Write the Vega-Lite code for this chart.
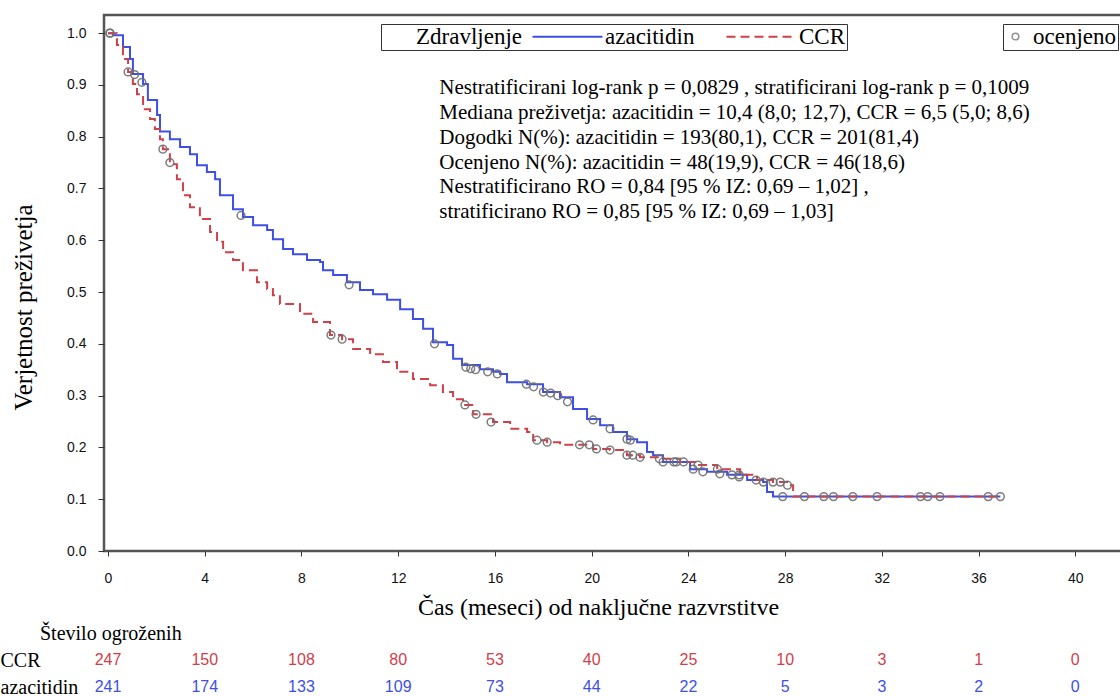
{
  "$schema": "https://vega.github.io/schema/vega-lite/v6.json",
  "padding": {"left": 0, "top": 13, "right": -4, "bottom": 0},
  "background": "white",
  "spacing": 3,
  "config": {
    "font": "Liberation Serif",
    "axis": {"grid": false, "domain": false, "tickColor": "#333", "labelColor": "#111", "titleColor": "#000", "titleFont": "Liberation Serif", "titleFontWeight": "normal", "labelFont": "Liberation Sans"}
  },
  "datasets": {
    "km": [
      {"grp":"azacitidin","t":0,"s":1.0},{"grp":"azacitidin","t":0.21,"s":0.996},{"grp":"azacitidin","t":0.62,"s":0.973},{"grp":"azacitidin","t":0.91,"s":0.95},{"grp":"azacitidin","t":1.03,"s":0.921},{"grp":"azacitidin","t":1.45,"s":0.902},{"grp":"azacitidin","t":1.65,"s":0.871},{"grp":"azacitidin","t":2.03,"s":0.842},{"grp":"azacitidin","t":2.15,"s":0.81},{"grp":"azacitidin","t":2.56,"s":0.795},{"grp":"azacitidin","t":2.98,"s":0.78},{"grp":"azacitidin","t":3.39,"s":0.766},{"grp":"azacitidin","t":3.68,"s":0.745},{"grp":"azacitidin","t":4.09,"s":0.732},{"grp":"azacitidin","t":4.43,"s":0.718},{"grp":"azacitidin","t":4.63,"s":0.687},{"grp":"azacitidin","t":5.17,"s":0.66},{"grp":"azacitidin","t":5.58,"s":0.645},{"grp":"azacitidin","t":6.0,"s":0.629},{"grp":"azacitidin","t":6.58,"s":0.62},{"grp":"azacitidin","t":6.82,"s":0.602},{"grp":"azacitidin","t":7.24,"s":0.583},{"grp":"azacitidin","t":7.65,"s":0.573},{"grp":"azacitidin","t":8.23,"s":0.562},{"grp":"azacitidin","t":8.77,"s":0.558},{"grp":"azacitidin","t":8.89,"s":0.542},{"grp":"azacitidin","t":9.31,"s":0.533},{"grp":"azacitidin","t":9.88,"s":0.519},{"grp":"azacitidin","t":10.42,"s":0.504},{"grp":"azacitidin","t":10.96,"s":0.496},{"grp":"azacitidin","t":11.54,"s":0.485},{"grp":"azacitidin","t":12.08,"s":0.467},{"grp":"azacitidin","t":12.61,"s":0.448},{"grp":"azacitidin","t":13.03,"s":0.429},{"grp":"azacitidin","t":13.44,"s":0.403},{"grp":"azacitidin","t":14.02,"s":0.398},{"grp":"azacitidin","t":14.27,"s":0.371},{"grp":"azacitidin","t":14.64,"s":0.359},{"grp":"azacitidin","t":15.38,"s":0.351},{"grp":"azacitidin","t":15.92,"s":0.346},{"grp":"azacitidin","t":16.21,"s":0.342},{"grp":"azacitidin","t":16.5,"s":0.326},{"grp":"azacitidin","t":17.33,"s":0.322},{"grp":"azacitidin","t":17.99,"s":0.307},{"grp":"azacitidin","t":18.69,"s":0.297},{"grp":"azacitidin","t":19.23,"s":0.274},{"grp":"azacitidin","t":19.81,"s":0.255},{"grp":"azacitidin","t":20.35,"s":0.243},{"grp":"azacitidin","t":20.88,"s":0.23},{"grp":"azacitidin","t":21.46,"s":0.216},{"grp":"azacitidin","t":21.88,"s":0.21},{"grp":"azacitidin","t":22.29,"s":0.191},{"grp":"azacitidin","t":22.54,"s":0.185},{"grp":"azacitidin","t":22.95,"s":0.172},{"grp":"azacitidin","t":24.07,"s":0.158},{"grp":"azacitidin","t":24.77,"s":0.153},{"grp":"azacitidin","t":25.6,"s":0.147},{"grp":"azacitidin","t":26.43,"s":0.137},{"grp":"azacitidin","t":27.09,"s":0.133},{"grp":"azacitidin","t":27.25,"s":0.114},{"grp":"azacitidin","t":27.5,"s":0.105},{"grp":"azacitidin","t":36.9,"s":0.105},
      {"grp":"CCR","t":0,"s":1.0},{"grp":"CCR","t":0.37,"s":0.977},{"grp":"CCR","t":0.62,"s":0.95},{"grp":"CCR","t":0.83,"s":0.925},{"grp":"CCR","t":1.03,"s":0.902},{"grp":"CCR","t":1.2,"s":0.882},{"grp":"CCR","t":1.45,"s":0.853},{"grp":"CCR","t":1.74,"s":0.834},{"grp":"CCR","t":1.94,"s":0.815},{"grp":"CCR","t":2.15,"s":0.795},{"grp":"CCR","t":2.27,"s":0.776},{"grp":"CCR","t":2.56,"s":0.747},{"grp":"CCR","t":2.85,"s":0.718},{"grp":"CCR","t":3.1,"s":0.687},{"grp":"CCR","t":3.39,"s":0.664},{"grp":"CCR","t":3.8,"s":0.641},{"grp":"CCR","t":4.22,"s":0.616},{"grp":"CCR","t":4.51,"s":0.597},{"grp":"CCR","t":4.76,"s":0.577},{"grp":"CCR","t":5.17,"s":0.562},{"grp":"CCR","t":5.58,"s":0.542},{"grp":"CCR","t":6.16,"s":0.519},{"grp":"CCR","t":6.58,"s":0.506},{"grp":"CCR","t":6.82,"s":0.494},{"grp":"CCR","t":7.11,"s":0.477},{"grp":"CCR","t":7.94,"s":0.458},{"grp":"CCR","t":8.48,"s":0.442},{"grp":"CCR","t":9.18,"s":0.417},{"grp":"CCR","t":9.68,"s":0.409},{"grp":"CCR","t":10.13,"s":0.39},{"grp":"CCR","t":10.84,"s":0.38},{"grp":"CCR","t":11.37,"s":0.365},{"grp":"CCR","t":11.95,"s":0.346},{"grp":"CCR","t":12.61,"s":0.332},{"grp":"CCR","t":13.32,"s":0.32},{"grp":"CCR","t":13.85,"s":0.307},{"grp":"CCR","t":14.27,"s":0.293},{"grp":"CCR","t":14.68,"s":0.282},{"grp":"CCR","t":15.1,"s":0.264},{"grp":"CCR","t":15.92,"s":0.249},{"grp":"CCR","t":16.63,"s":0.236},{"grp":"CCR","t":17.33,"s":0.23},{"grp":"CCR","t":17.58,"s":0.214},{"grp":"CCR","t":18.16,"s":0.21},{"grp":"CCR","t":18.69,"s":0.205},{"grp":"CCR","t":20.06,"s":0.197},{"grp":"CCR","t":20.76,"s":0.195},{"grp":"CCR","t":21.46,"s":0.185},{"grp":"CCR","t":22.0,"s":0.181},{"grp":"CCR","t":22.83,"s":0.178},{"grp":"CCR","t":23.66,"s":0.172},{"grp":"CCR","t":24.36,"s":0.166},{"grp":"CCR","t":25.19,"s":0.158},{"grp":"CCR","t":26.14,"s":0.147},{"grp":"CCR","t":26.84,"s":0.137},{"grp":"CCR","t":27.5,"s":0.133},{"grp":"CCR","t":28.08,"s":0.127},{"grp":"CCR","t":28.33,"s":0.105},{"grp":"CCR","t":36.9,"s":0.105}
    ],
    "cens": [
      {"grp":"azacitidin","t":0.08,"s":1.0},{"grp":"azacitidin","t":1.1,"s":0.92},{"grp":"azacitidin","t":1.4,"s":0.905},{"grp":"azacitidin","t":5.5,"s":0.648},{"grp":"azacitidin","t":9.97,"s":0.514},{"grp":"azacitidin","t":13.5,"s":0.4},{"grp":"azacitidin","t":14.8,"s":0.355},{"grp":"azacitidin","t":15.0,"s":0.352},{"grp":"azacitidin","t":15.2,"s":0.35},{"grp":"azacitidin","t":15.7,"s":0.346},{"grp":"azacitidin","t":16.1,"s":0.342},{"grp":"azacitidin","t":17.3,"s":0.322},{"grp":"azacitidin","t":17.6,"s":0.317},{"grp":"azacitidin","t":18.0,"s":0.307},{"grp":"azacitidin","t":18.3,"s":0.305},{"grp":"azacitidin","t":18.6,"s":0.3},{"grp":"azacitidin","t":19.0,"s":0.288},{"grp":"azacitidin","t":20.06,"s":0.253},{"grp":"azacitidin","t":20.76,"s":0.236},{"grp":"azacitidin","t":21.46,"s":0.216},{"grp":"azacitidin","t":21.6,"s":0.214},{"grp":"azacitidin","t":22.95,"s":0.172},{"grp":"azacitidin","t":23.4,"s":0.172},{"grp":"azacitidin","t":24.2,"s":0.158},{"grp":"azacitidin","t":24.6,"s":0.153},{"grp":"azacitidin","t":25.3,"s":0.149},{"grp":"azacitidin","t":25.8,"s":0.147},{"grp":"azacitidin","t":26.1,"s":0.143},{"grp":"azacitidin","t":26.8,"s":0.137},{"grp":"azacitidin","t":27.1,"s":0.133},{"grp":"azacitidin","t":27.9,"s":0.105},{"grp":"azacitidin","t":30.0,"s":0.105},{"grp":"azacitidin","t":30.8,"s":0.105},{"grp":"azacitidin","t":33.6,"s":0.105},{"grp":"azacitidin","t":34.4,"s":0.105},{"grp":"azacitidin","t":36.9,"s":0.105},
      {"grp":"CCR","t":0.08,"s":1.0},{"grp":"CCR","t":0.83,"s":0.925},{"grp":"CCR","t":2.27,"s":0.776},{"grp":"CCR","t":2.56,"s":0.75},{"grp":"CCR","t":9.22,"s":0.417},{"grp":"CCR","t":9.68,"s":0.409},{"grp":"CCR","t":14.76,"s":0.282},{"grp":"CCR","t":15.22,"s":0.264},{"grp":"CCR","t":15.84,"s":0.249},{"grp":"CCR","t":17.74,"s":0.214},{"grp":"CCR","t":18.16,"s":0.21},{"grp":"CCR","t":19.5,"s":0.205},{"grp":"CCR","t":19.9,"s":0.205},{"grp":"CCR","t":20.2,"s":0.197},{"grp":"CCR","t":20.76,"s":0.195},{"grp":"CCR","t":21.46,"s":0.185},{"grp":"CCR","t":21.7,"s":0.185},{"grp":"CCR","t":22.0,"s":0.181},{"grp":"CCR","t":22.8,"s":0.178},{"grp":"CCR","t":23.5,"s":0.172},{"grp":"CCR","t":23.8,"s":0.172},{"grp":"CCR","t":24.4,"s":0.166},{"grp":"CCR","t":25.2,"s":0.158},{"grp":"CCR","t":26.1,"s":0.147},{"grp":"CCR","t":27.5,"s":0.133},{"grp":"CCR","t":27.8,"s":0.133},{"grp":"CCR","t":28.1,"s":0.127},{"grp":"CCR","t":28.8,"s":0.105},{"grp":"CCR","t":29.6,"s":0.105},{"grp":"CCR","t":31.8,"s":0.105},{"grp":"CCR","t":33.9,"s":0.105},{"grp":"CCR","t":36.4,"s":0.105}
    ],
    "risk": [
      {"grp":"CCR","t":0,"n":247},{"grp":"CCR","t":4,"n":150},{"grp":"CCR","t":8,"n":108},{"grp":"CCR","t":12,"n":80},{"grp":"CCR","t":16,"n":53},{"grp":"CCR","t":20,"n":40},{"grp":"CCR","t":24,"n":25},{"grp":"CCR","t":28,"n":10},{"grp":"CCR","t":32,"n":3},{"grp":"CCR","t":36,"n":1},{"grp":"CCR","t":40,"n":0},
      {"grp":"azacitidin","t":0,"n":241},{"grp":"azacitidin","t":4,"n":174},{"grp":"azacitidin","t":8,"n":133},{"grp":"azacitidin","t":12,"n":109},{"grp":"azacitidin","t":16,"n":73},{"grp":"azacitidin","t":20,"n":44},{"grp":"azacitidin","t":24,"n":22},{"grp":"azacitidin","t":28,"n":5},{"grp":"azacitidin","t":32,"n":3},{"grp":"azacitidin","t":36,"n":2},{"grp":"azacitidin","t":40,"n":0}
    ],
    "notes": [
      {"note": ["Nestratificirani log-rank p = 0,0829 , stratificirani log-rank p = 0,1009", "Mediana preživetja: azacitidin = 10,4 (8,0; 12,7), CCR = 6,5 (5,0; 8,6)", "Dogodki N(%): azacitidin = 193(80,1), CCR = 201(81,4)", "Ocenjeno N(%): azacitidin = 48(19,9), CCR = 46(18,6)", "Nestratificirano RO = 0,84 [95 % IZ: 0,69 – 1,02] ,", "stratificirano RO = 0,85 [95 % IZ: 0,69 – 1,03]"]}
    ]
  },
  "vconcat": [
    {
      "width": 1018,
      "height": 536,
      "view": {"stroke": "#555", "strokeWidth": 2.5},
      "layer": [
        {
          "data": {"name": "km"},
          "mark": {"type": "line", "interpolate": "step-after", "strokeWidth": 2},
          "encoding": {
            "x": {"field": "t", "type": "quantitative", "scale": {"domain": [-0.165, 41.93], "nice": false, "zero": false},
                  "axis": {"values": [0,4,8,12,16,20,24,28,32,36,40], "title": "Čas (meseci) od naključne razvrstitve", "titleFontSize": 24, "titleX": 494, "labelFontSize": 14, "tickSize": 5, "labelPadding": 15, "titlePadding": 10}},
            "y": {"field": "s", "type": "quantitative", "scale": {"domain": [0, 1.035], "nice": false},
                  "axis": {"values": [0,0.1,0.2,0.3,0.4,0.5,0.6,0.7,0.8,0.9,1.0], "format": ".1f", "title": "Verjetnost preživetja", "titleFontSize": 25, "titleY": 292, "labelFontSize": 14, "tickSize": 6, "labelPadding": 12, "titlePadding": 30}},
            "color": {"field": "grp", "type": "nominal", "scale": {"domain": ["azacitidin", "CCR"], "range": ["#3d4fe6", "#d0404a"]},
                      "legend": {"title": "\u2800\u2800Zdravljenje", "orient": "none", "legendX": 277, "legendY": 9, "direction": "horizontal", "titleOrient": "left", "strokeColor": "#333", "padding": 1, "symbolType": "M-3.5,0H3.5", "symbolSize": 400, "symbolStrokeWidth": 2, "symbolOffset": 25, "labelOffset": 26, "columnPadding": 27, "labelFont": "Liberation Serif", "labelFontSize": 23, "labelColor": "#000", "titleFont": "Liberation Serif", "titleFontSize": 23, "titleFontWeight": "normal", "titleColor": "#000", "titlePadding": 8}},
            "strokeDash": {"field": "grp", "type": "nominal", "scale": {"domain": ["azacitidin", "CCR"], "range": [[1, 0], [9, 5]]},
                      "legend": {"title": "\u2800\u2800Zdravljenje", "orient": "none", "legendX": 277, "legendY": 9, "direction": "horizontal", "titleOrient": "left", "strokeColor": "#333", "padding": 1, "symbolType": "M-3.5,0H3.5", "symbolSize": 400, "symbolStrokeWidth": 2, "symbolOffset": 25, "labelOffset": 26, "columnPadding": 27, "labelFont": "Liberation Serif", "labelFontSize": 23, "labelColor": "#000", "titleFont": "Liberation Serif", "titleFontSize": 23, "titleFontWeight": "normal", "titleColor": "#000", "titlePadding": 8}}
          }
        },
        {
          "data": {"name": "cens"},
          "mark": {"type": "point", "shape": "circle", "filled": false, "stroke": "#707070", "strokeWidth": 1.5, "size": 60, "opacity": 0.9},
          "encoding": {
            "x": {"field": "t", "type": "quantitative"},
            "y": {"field": "s", "type": "quantitative"},
            "shape": {"datum": "ocenjeno", "type": "nominal", "scale": {"range": ["circle"]},
                      "legend": {"title": null, "orient": "none", "legendX": 899, "legendY": 9, "strokeColor": "#333", "padding": 1, "symbolSize": 45, "symbolStrokeColor": "#888", "symbolFillColor": "white", "symbolStrokeWidth": 1.5, "labelFont": "Liberation Serif", "labelFontSize": 23, "labelColor": "#000", "labelOffset": 6}}
          }
        },
        {
          "data": {"name": "notes"},
          "mark": {"type": "text", "align": "left", "baseline": "top", "font": "Liberation Serif", "fontSize": 21, "lineHeight": 24.8, "color": "#000"},
          "encoding": {
            "x": {"datum": 13.7, "type": "quantitative"},
            "y": {"datum": 0.915, "type": "quantitative"},
            "text": {"field": "note"}
          }
        }
      ]
    },
    {
      "width": 1018,
      "height": 43.2,
      "view": {"stroke": null},
      "data": {"name": "risk"},
      "title": {"text": "Število ogroženih", "anchor": "start", "frame": "bounds", "font": "Liberation Serif", "fontSize": 20, "fontWeight": "normal", "color": "#000", "dx": 40, "offset": 6},
      "mark": {"type": "text", "font": "Liberation Sans", "fontSize": 16},
      "encoding": {
        "x": {"field": "t", "type": "quantitative", "scale": {"domain": [-0.165, 41.93], "nice": false, "zero": false}, "axis": null},
        "y": {"field": "grp", "type": "nominal", "scale": {"type": "point", "domain": ["CCR", "azacitidin"], "padding": 0.3},
              "axis": {"title": null, "ticks": false, "domain": false, "labelAlign": "left", "labelPadding": 104, "labelFont": "Liberation Serif", "labelFontSize": 20, "labelColor": "#000"}},
        "text": {"field": "n", "type": "quantitative"},
        "color": {"field": "grp", "type": "nominal", "scale": {"domain": ["azacitidin", "CCR"], "range": ["#3d4fe6", "#d0404a"]}, "legend": null}
      }
    }
  ],
  "resolve": {"scale": {"color": "independent", "strokeDash": "independent", "x": "independent", "y": "independent"}, "legend": {"color": "independent"}}
}
